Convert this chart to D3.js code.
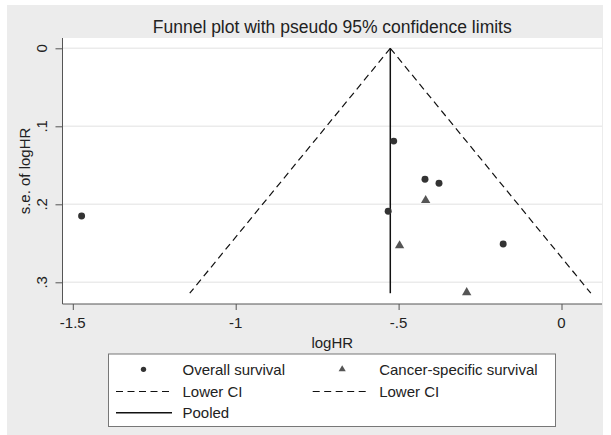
<!DOCTYPE html>
<html>
<head>
<meta charset="utf-8">
<script src="https://cdn.jsdelivr.net/npm/d3@7"></script>
<style>
  body { margin: 0; background: #fff; }
  svg text { font-family: "Liberation Sans", Arial, sans-serif; fill: #222; }
</style>
</head>
<body>
<svg id="chart" width="611" height="435"></svg>
<script>
// study estimates
var overallLogHR = [-0.515, -0.419, -0.376, -0.532, -0.179, -1.473];
var overallSE    = [0.119, 0.168, 0.173, 0.209, 0.251, 0.215];
var cancerLogHR  = [-0.417, -0.497, -0.291];
var cancerSE     = [0.195, 0.253, 0.313];

// pooled estimate and pseudo 95% limits
var pooledLogHR = -0.5255;
var limitSE     = [0, 0.314];
var lowerLimit  = [-0.5255, -1.141];
var upperLimit  = [-0.5255, 0.090];

var xTicks = [-1.5, -1, -0.5, 0];
var xTickLabels = ["-1.5", "-1", "-.5", "0"];
var yTicks = [0, 0.1, 0.2, 0.3];
var yTickLabels = ["0", ".1", ".2", ".3"];

var legendItems = [
  { label: "Overall survival", kind: "circle", col: 0, row: 0 },
  { label: "Cancer-specific survival", kind: "triangle", col: 1, row: 0 },
  { label: "Lower CI", kind: "dash", col: 0, row: 1 },
  { label: "Lower CI", kind: "dash", col: 1, row: 1 },
  { label: "Pooled", kind: "solid", col: 0, row: 2 }
];

var svg = d3.select("#chart");

// outer grey panel
svg.append("rect")
  .attr("x", 7).attr("y", 5)
  .attr("width", 596).attr("height", 430)
  .attr("fill", "#ececec");

var plot = { left: 62.5, right: 602, top: 38, bottom: 304 };

var xScale = d3.scaleLinear().domain([-1.5, 0]).range([72.8, 561.5]);
var yScale = d3.scaleLinear().domain([0, 0.3]).range([48.3, 282.3]);

// plot region
svg.append("rect")
  .attr("x", plot.left).attr("y", plot.top)
  .attr("width", plot.right - plot.left)
  .attr("height", plot.bottom - plot.top)
  .attr("fill", "#fff");

// grid lines
svg.append("g").selectAll("line").data(yTicks)
  .enter().append("line")
    .attr("x1", plot.left).attr("x2", plot.right)
    .attr("y1", function(d){ return yScale(d); })
    .attr("y2", function(d){ return yScale(d); })
    .attr("stroke", "#ebebeb")
    .attr("stroke-width", 1.5);

// axes
var yAxis = d3.axisLeft(yScale).tickValues(yTicks).tickSize(7).tickFormat("");
var yAxisG = svg.append("g")
  .attr("transform", "translate(" + plot.left + ",0)")
  .call(yAxis);
var xAxis = d3.axisBottom(xScale).tickValues(xTicks).tickSize(6).tickFormat("");
var xAxisG = svg.append("g")
  .attr("transform", "translate(0," + plot.bottom + ")")
  .call(xAxis);

[yAxisG, xAxisG].forEach(function(g){
  g.select(".domain").remove();
  g.selectAll(".tick line").attr("stroke", "#555");
});
svg.append("line")
  .attr("x1", plot.left).attr("x2", plot.left)
  .attr("y1", plot.top).attr("y2", plot.bottom)
  .attr("stroke", "#555");
svg.append("line")
  .attr("x1", plot.left).attr("x2", plot.right)
  .attr("y1", plot.bottom).attr("y2", plot.bottom)
  .attr("stroke", "#555");

// tick labels
svg.append("g").selectAll("text").data(yTicks)
  .enter().append("text")
    .attr("transform", function(d){ return "translate(47," + yScale(d) + ") rotate(-90)"; })
    .attr("text-anchor", "middle")
    .attr("font-size", 15)
    .text(function(d, i){ return yTickLabels[i]; });

svg.append("g").selectAll("text").data(xTicks)
  .enter().append("text")
    .attr("x", function(d){ return xScale(d); })
    .attr("y", 328)
    .attr("text-anchor", "middle")
    .attr("font-size", 15)
    .text(function(d, i){ return xTickLabels[i]; });

// axis titles
svg.append("text")
  .attr("x", (plot.left + plot.right) / 2).attr("y", 348)
  .attr("text-anchor", "middle").attr("font-size", 15)
  .text("logHR");
svg.append("text")
  .attr("transform", "translate(30," + (plot.top + plot.bottom) / 2 + ") rotate(-90)")
  .attr("text-anchor", "middle").attr("font-size", 15)
  .text("s.e. of logHR");

// title
svg.append("text")
  .attr("x", (plot.left + plot.right) / 2).attr("y", 33)
  .attr("text-anchor", "middle").attr("font-size", 17.5)
  .text("Funnel plot with pseudo 95% confidence limits");

// funnel lines
var line = d3.line()
  .x(function(d){ return xScale(d[0]); })
  .y(function(d){ return yScale(d[1]); });

[lowerLimit, upperLimit].forEach(function(xs){
  svg.append("path")
    .attr("d", line(xs.map(function(x, i){ return [x, limitSE[i]]; })))
    .attr("fill", "none")
    .attr("stroke", "#111")
    .attr("stroke-width", 1.2)
    .attr("stroke-dasharray", "7,4.5");
});

svg.append("path")
  .attr("d", line(limitSE.map(function(s){ return [pooledLogHR, s]; })))
  .attr("fill", "none")
  .attr("stroke", "#111")
  .attr("stroke-width", 1.5);

// points
var circleSym = d3.symbol().type(d3.symbolCircle).size(38);
var triSym = d3.symbol().type(d3.symbolTriangle).size(38);

svg.append("g").selectAll("path").data(overallLogHR)
  .enter().append("path")
    .attr("d", circleSym)
    .attr("transform", function(d, i){ return "translate(" + xScale(d) + "," + yScale(overallSE[i]) + ")"; })
    .attr("fill", "#333");

svg.append("g").selectAll("path").data(cancerLogHR)
  .enter().append("path")
    .attr("d", triSym)
    .attr("transform", function(d, i){ return "translate(" + xScale(d) + "," + yScale(cancerSE[i]) + ")"; })
    .attr("fill", "#555");

// legend
var legend = svg.append("g");
legend.append("rect")
  .attr("x", 108.5).attr("y", 354)
  .attr("width", 447).attr("height", 72.5)
  .attr("fill", "#fff")
  .attr("stroke", "#777");

var colX = [116, 312.7];
var rowY = [369.3, 391.5, 412.7];

legendItems.forEach(function(d){
  var x0 = colX[d.col], y0 = rowY[d.row];
  if (d.kind === "circle") {
    legend.append("path")
      .attr("d", d3.symbol().type(d3.symbolCircle).size(22)())
      .attr("transform", "translate(" + (x0 + 27.5) + "," + y0 + ")")
      .attr("fill", "#333");
  } else if (d.kind === "triangle") {
    legend.append("path")
      .attr("d", d3.symbol().type(d3.symbolTriangle).size(22)())
      .attr("transform", "translate(" + (x0 + 29.5) + "," + y0 + ")")
      .attr("fill", "#555");
  } else {
    legend.append("line")
      .attr("x1", x0).attr("x2", x0 + 56)
      .attr("y1", y0).attr("y2", y0)
      .attr("stroke", "#111")
      .attr("stroke-width", d.kind === "solid" ? 1.5 : 1.2)
      .attr("stroke-dasharray", d.kind === "dash" ? "7,4.5" : null);
  }
  legend.append("text")
    .attr("x", x0 + 66.5).attr("y", y0 + 5.5)
    .attr("font-size", 15)
    .text(d.label);
});
</script>
</body>
</html>
